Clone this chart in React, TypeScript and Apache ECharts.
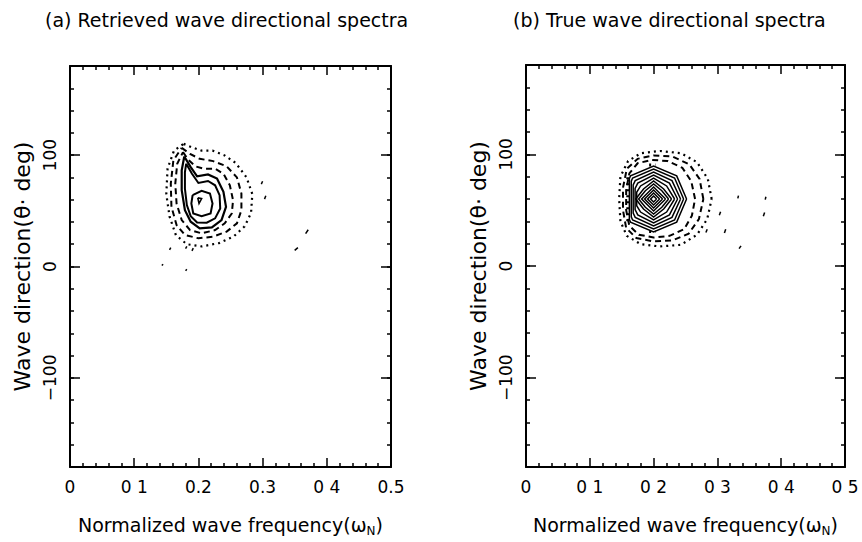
import React, { useEffect, useRef } from 'react';
import * as echarts from 'echarts';

const FONT = 'DejaVu Sans';

// ---- axis texts ----
const titleA = '(a) Retrieved wave directional spectra';
const titleB = '(b) True wave directional spectra';
const xNameText = 'Normalized wave frequency(ω{s|N})';
const yNameText = 'Wave direction(θ· deg)';
const xTickLabelsA = ['0', '0 1', '0.2', '0.3', '0 4', '0.5'];
const xTickLabelsB = ['0', '0 1', '0 2', '0 3', '0 4', '0 5'];
const yMajorValues = [-100, 0, 100];
const yMajorLabels = ['−100', '0', '100'];

// ---- (a) retrieved spectrum contours, [frequency, direction] ----
const leftPeak = [[0.199, 61.6], [0.205, 60.9], [0.201, 56.5]];
const leftSolidInner = [[0.191, 64], [0.205, 67.9], [0.218, 65.5], [0.222, 56.5], [0.219, 47.6], [0.205, 45.2], [0.192, 47.6], [0.189, 56.5]];
const leftSolidMiddle = [[0.181, 92.3], [0.19, 83.3], [0.2, 75], [0.215, 76.8], [0.226, 72.9], [0.233, 64], [0.234, 52.1], [0.226, 43.2], [0.213, 39.3], [0.198, 39.6], [0.188, 45.2], [0.182, 55.1], [0.179, 69.9], [0.179, 84.8]];
const leftSolidOuter = [[0.178, 98.8], [0.188, 89.3], [0.198, 81], [0.215, 82.7], [0.229, 78.9], [0.239, 67], [0.243, 53.6], [0.236, 41.7], [0.221, 35.1], [0.202, 34.2], [0.188, 40.2], [0.179, 50.6], [0.174, 68.5], [0.174, 86.3]];
const leftDashedInner = [[0.176, 102.7], [0.184, 96], [0.195, 90], [0.208, 87.8], [0.226, 87.8], [0.239, 83.3], [0.249, 72.9], [0.254, 59.5], [0.252, 47.6], [0.241, 38.7], [0.226, 32.7], [0.205, 29.8], [0.187, 32.7], [0.174, 41.7], [0.166, 56.5], [0.164, 74.4], [0.167, 92.3]];
const leftDashedOuter = [[0.174, 106.5], [0.187, 101], [0.202, 96.7], [0.223, 94.6], [0.244, 89.9], [0.26, 80], [0.267, 65.5], [0.267, 50.6], [0.26, 38.7], [0.244, 31.3], [0.223, 26.8], [0.2, 25.3], [0.179, 28.3], [0.166, 37.2], [0.158, 53.6], [0.157, 74.4], [0.161, 95.3]];
const leftDotted = [[0.177, 110.1], [0.19, 107], [0.205, 104], [0.222, 104], [0.24, 100], [0.258, 93], [0.275, 80], [0.284, 65], [0.282, 48], [0.272, 36], [0.255, 27], [0.232, 21], [0.205, 18], [0.182, 20], [0.165, 28], [0.155, 45], [0.15, 65], [0.152, 88], [0.162, 104]];
const leftFragments = [
  [[0.143, 0.9], [0.145, 2.0]],
  [[0.18, -3.8], [0.182, -2.5]],
  [[0.155, 15], [0.157, 17]],
  [[0.18, 16], [0.182, 18]],
  [[0.19, 14], [0.192, 16.5]],
  [[0.35, 14.5], [0.355, 17]],
  [[0.367, 29.5], [0.371, 33]],
  [[0.298, 74], [0.3, 76.5]],
  [[0.303, 60.5], [0.305, 63.5]],
];

// ---- (b) true spectrum contours ----
const rightSolidRings = [
  [[0.2047, 60], [0.2, 62.7], [0.1953, 60], [0.2, 57.3]],
  [[0.2094, 60], [0.2, 65.4], [0.1906, 60], [0.2, 54.6]],
  [[0.2141, 60], [0.2, 68.1], [0.1859, 60], [0.2, 51.9]],
  [[0.2188, 60], [0.2, 70.7], [0.1812, 60], [0.2, 49.3]],
  [[0.2235, 60], [0.2129, 67.4], [0.2, 73.4], [0.1871, 67.4], [0.1765, 60], [0.1871, 52.6], [0.2, 46.6], [0.2129, 52.6]],
  [[0.2282, 60], [0.2158, 69], [0.2, 76.1], [0.1842, 69], [0.172, 60], [0.1842, 51], [0.2, 43.9], [0.2158, 51]],
  [[0.2329, 60], [0.2204, 71.7], [0.2, 78.8], [0.1796, 71.7], [0.1735, 66], [0.1735, 54], [0.1796, 48.3], [0.2, 41.2], [0.2204, 48.3]],
  [[0.2376, 60], [0.2248, 74.2], [0.2, 81.5], [0.1752, 74.2], [0.171, 69.5], [0.171, 50.5], [0.1752, 45.8], [0.2, 38.5], [0.2248, 45.8]],
  [[0.2423, 60], [0.2288, 76.5], [0.2, 84.2], [0.1712, 76.5], [0.168, 72.6], [0.168, 47.4], [0.1712, 43.5], [0.2, 35.8], [0.2288, 43.5]],
  [[0.247, 60], [0.2329, 78.8], [0.2, 86.8], [0.1671, 78.8], [0.165, 76], [0.165, 44], [0.1671, 41.2], [0.2, 33.2], [0.2329, 41.2]],
  [[0.2517, 60], [0.2362, 80.7], [0.2, 89.5], [0.1638, 80.7], [0.162, 78.3], [0.162, 41.7], [0.1638, 39.3], [0.2, 30.5], [0.2362, 39.3]],
];
const rightDashedRings = [
  [[0.265, 60], [0.259, 76], [0.245, 88], [0.222, 94], [0.197, 95], [0.175, 92], [0.162, 83], [0.157, 68], [0.157, 50], [0.162, 36], [0.177, 28], [0.2, 25.5], [0.225, 27], [0.248, 33], [0.26, 45]],
  [[0.278, 60], [0.272, 78], [0.256, 91], [0.23, 98], [0.2, 99], [0.175, 96], [0.158, 87], [0.152, 70], [0.152, 50], [0.157, 34], [0.173, 25], [0.2, 22], [0.23, 23], [0.255, 29], [0.271, 42]],
];
const rightDottedRings = [
  [[0.291, 60], [0.285, 78], [0.268, 93], [0.243, 101], [0.21, 103], [0.18, 101], [0.16, 94], [0.148, 80], [0.146, 60], [0.148, 40], [0.158, 27], [0.18, 19.5], [0.21, 17.5], [0.243, 19], [0.268, 28], [0.284, 42]],
];
// dense patches where the contours crowd together
const rightCrowdedPatches = [
  [[0.193, 90.5], [0.203, 90.5]],
  [[0.193, 31], [0.203, 31]],
  [[0.1595, 40], [0.1595, 80]],
];
const rightFragments = [
  [[0.332, 60.5], [0.333, 63]],
  [[0.375, 59.5], [0.376, 62]],
  [[0.372, 44.5], [0.374, 48]],
  [[0.303, 45.5], [0.305, 48.5]],
  [[0.311, 29.5], [0.313, 33]],
  [[0.282, 30], [0.284, 33]],
  [[0.334, 15.5], [0.337, 18]],
];

const closed = (r: number[][]) => [...r, r[0]];

const lineSeries = (data: any[], xi: number, yi: number, kind: string, width?: number) => ({
  type: 'line',
  data,
  xAxisIndex: xi,
  yAxisIndex: yi,
  symbol: 'none',
  showSymbol: false,
  silent: true,
  z: 3,
  lineStyle: {
    color: '#000',
    width: width ?? (kind === 'solid' ? 1.8 : 2),
    type: kind === 'solid' ? 'solid' : kind === 'dashed' ? [6, 4] : [2, 4],
    cap: 'butt',
    join: 'miter',
  },
});

const tickLine = { color: '#000', width: 1.5 };

const xAxisMain = (gi: number, labels: string[]) => ({
  type: 'value', gridIndex: gi, position: 'bottom', min: 0, max: 0.5, interval: 0.1,
  axisLine: { show: true, onZero: false, lineStyle: { color: '#000', width: 2 } },
  axisTick: { show: true, inside: true, length: 9, lineStyle: tickLine },
  minorTick: { show: true, splitNumber: 5, length: 4, lineStyle: tickLine },
  splitLine: { show: false }, minorSplitLine: { show: false },
  axisLabel: {
    show: true, margin: 11, color: '#000', fontSize: 17, fontFamily: FONT,
    formatter: (v: number) => labels[Math.round(v * 10)] ?? '',
  },
  name: xNameText, nameLocation: 'middle', nameGap: 46,
  nameTextStyle: {
    color: '#000', fontSize: 19, fontFamily: FONT, lineHeight: 24,
    rich: { s: { fontSize: 12, fontFamily: FONT, color: '#000', verticalAlign: 'bottom', lineHeight: 12 } },
  },
});

const xAxisTop = (gi: number) => ({
  type: 'value', gridIndex: gi, position: 'top', min: 0, max: 0.5, interval: 0.1,
  axisLine: { show: true, onZero: false, lineStyle: { color: '#000', width: 2 } },
  axisTick: { show: true, inside: true, length: 9, lineStyle: tickLine },
  minorTick: { show: true, splitNumber: 5, length: 4, lineStyle: tickLine },
  splitLine: { show: false }, minorSplitLine: { show: false },
  axisLabel: { show: false },
});

const yAxisMajor = (gi: number, pos: string, withLabels: boolean) => ({
  type: 'value', gridIndex: gi, position: pos, min: -180, max: 180,
  axisLine: { show: true, onZero: false, lineStyle: { color: '#000', width: 2 } },
  axisTick: { show: true, inside: true, length: 10, lineStyle: tickLine, customValues: yMajorValues },
  splitLine: { show: false },
  axisLabel: withLabels
    ? {
        show: true, rotate: 90, margin: 12, color: '#000', fontSize: 17, fontFamily: FONT,
        customValues: yMajorValues,
        formatter: (v: number) => yMajorLabels[yMajorValues.indexOf(Math.round(v))] ?? '',
      }
    : { show: false },
  name: withLabels ? yNameText : '',
  nameLocation: 'middle',
  nameGap: 37,
  nameRotate: 90,
  nameTextStyle: { color: '#000', fontSize: 22, fontFamily: FONT },
});

const yAxisMinor = (gi: number, pos: string) => ({
  type: 'value', gridIndex: gi, position: pos, min: -180, max: 180, interval: 20,
  axisLine: { show: false, onZero: false },
  axisTick: { show: true, inside: true, length: 4, lineStyle: tickLine },
  splitLine: { show: false },
  axisLabel: { show: false },
});

export default function App() {
  const ref = useRef<HTMLDivElement>(null);
  useEffect(() => {
    if (!ref.current) return;
    const chart = echarts.init(ref.current, undefined, { renderer: 'svg' });

    const series: any[] = [];
    // left panel: xAxis 0, yAxis 0
    series.push(lineSeries(closed(leftPeak), 0, 0, 'solid', 1.6));
    series.push(lineSeries(closed(leftSolidInner), 0, 0, 'solid', 2));
    series.push(lineSeries(closed(leftSolidMiddle), 0, 0, 'solid', 2));
    series.push(lineSeries(closed(leftSolidOuter), 0, 0, 'solid', 2.2));
    series.push(lineSeries(closed(leftDashedInner), 0, 0, 'dashed'));
    series.push(lineSeries(closed(leftDashedOuter), 0, 0, 'dashed'));
    series.push(lineSeries(closed(leftDotted), 0, 0, 'dotted', 2.2));
    leftFragments.forEach((f) => series.push(lineSeries(f, 0, 0, 'solid', 1.5)));
    // right panel: xAxis 2, yAxis 4
    rightSolidRings.forEach((r) => series.push(lineSeries(closed(r), 2, 4, 'solid', 1.5)));
    rightDashedRings.forEach((r) => series.push(lineSeries(closed(r), 2, 4, 'dashed')));
    rightDottedRings.forEach((r) => series.push(lineSeries(closed(r), 2, 4, 'dotted', 2.2)));
    rightCrowdedPatches.forEach((f) => series.push(lineSeries(f, 2, 4, 'dotted', 3)));
    rightFragments.forEach((f) => series.push(lineSeries(f, 2, 4, 'solid', 1.5)));

    chart.setOption({
      animation: false,
      backgroundColor: '#fff',
      title: [
        { text: titleA, left: 45, top: 10, padding: 0, textStyle: { color: '#000', fontSize: 19, fontWeight: 'normal', fontFamily: FONT } },
        { text: titleB, left: 513, top: 10, padding: 0, textStyle: { color: '#000', fontSize: 19, fontWeight: 'normal', fontFamily: FONT } },
      ],
      grid: [
        { left: 70, top: 66, width: 321, height: 406, containLabel: false },
        { left: 526, top: 65, width: 319, height: 406, containLabel: false },
      ],
      xAxis: [xAxisMain(0, xTickLabelsA), xAxisTop(0), xAxisMain(1, xTickLabelsB), xAxisTop(1)],
      yAxis: [
        yAxisMajor(0, 'left', true), yAxisMinor(0, 'left'), yAxisMajor(0, 'right', false), yAxisMinor(0, 'right'),
        yAxisMajor(1, 'left', true), yAxisMinor(1, 'left'), yAxisMajor(1, 'right', false), yAxisMinor(1, 'right'),
      ],
      series,
    });
    return () => chart.dispose();
  }, []);
  return <div ref={ref} style={{ position: 'absolute', left: 0, top: 0, width: 862, height: 542, background: '#fff' }} />;
}
